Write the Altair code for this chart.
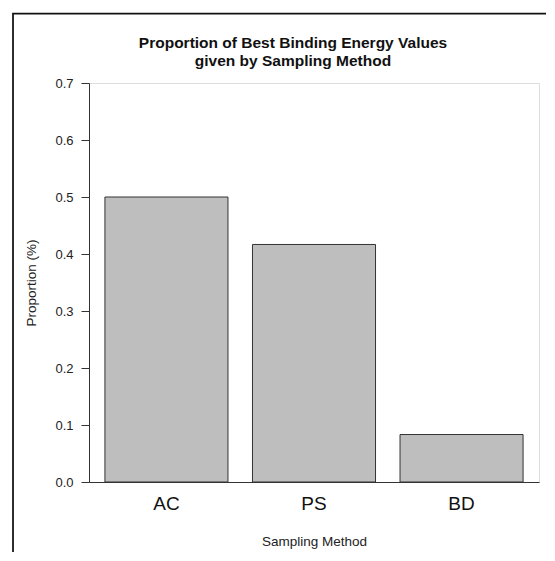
import altair as alt
import pandas as pd

methods = ["AC", "PS", "BD"]
proportions = [0.5, 0.4167, 0.0833]
y_ticks = [0.0, 0.1, 0.2, 0.3, 0.4, 0.5, 0.6, 0.7]
title_lines = ["Proportion of Best Binding Energy Values", "given by Sampling Method"]

df = pd.DataFrame({"method": methods, "proportion": proportions})

FONT = "Liberation Sans"

bars = alt.Chart(df).mark_bar(color="#bebebe", stroke="#333333", strokeWidth=1).encode(
    x=alt.X(
        "method:N", sort=methods, title="Sampling Method",
        scale=alt.Scale(paddingInner=0.166, paddingOuter=0.108),
        axis=alt.Axis(labelAngle=0, labelFontSize=19, labelColor="#111111", ticks=False,
                      domain=True, domainColor="#333333", domainWidth=1, labelPadding=12,
                      titleFontSize=13.5, titlePadding=21, titleFontWeight="normal",
                      titleColor="#222222", labelFont=FONT, titleFont=FONT),
    ),
    y=alt.Y(
        "proportion:Q", title="Proportion (%)",
        scale=alt.Scale(domain=[0, 0.7], nice=False, zero=True),
        axis=alt.Axis(values=y_ticks, format=".1f", grid=False, tickSize=8, tickColor="#333333",
                      domainColor="#333333", labelPadding=8, labelFontSize=13,
                      labelColor="#222222", labelFont=FONT, titleFont=FONT,
                      titleFontSize=13.5, titleFontWeight="normal", titleColor="#222222",
                      titlePadding=16),
    ),
)

frame_data = alt.Data(values=[{"k": 0}])
frame = alt.Chart(frame_data).mark_rect(filled=False, stroke="#111111", strokeWidth=1.75).encode(
    x=alt.value(-76), x2=alt.value(600), y=alt.value(-69.5), y2=alt.value(600)
)

chart = alt.layer(bars, frame).properties(
    width=450,
    height=399,
    padding={"left": 81, "top": 75, "right": 7, "bottom": 70},
    autosize=alt.AutoSizeParams(type="none"),
    title=alt.Title(title_lines, fontSize=15.5, font=FONT, fontWeight="bold", anchor="middle",
                    frame="group", dx=-21, offset=-56.5, lineHeight=18, color="#111111"),
).configure_view(stroke="#999999", strokeWidth=1).configure(background="white")

chart.save("out.html", embed_options={"renderer": "svg", "actions": False})
